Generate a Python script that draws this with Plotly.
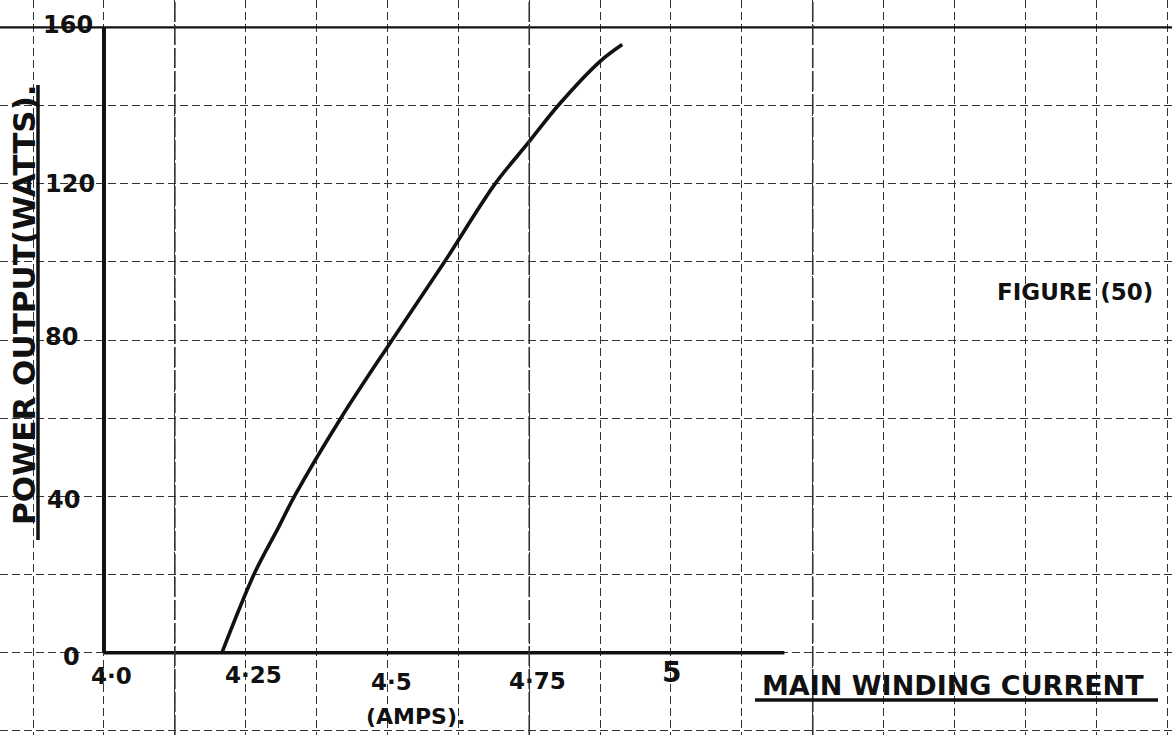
import plotly.graph_objects as go

# ---- data ----
current_amps = [4.208, 4.266, 4.305, 4.337, 4.419, 4.510, 4.601, 4.690, 4.748, 4.801, 4.875, 4.914]
power_watts = [0, 20.5, 31.3, 40.3, 60.3, 80.4, 100.1, 120, 130.4, 140, 151.3, 155.6]

x_tick_values = [4.0, 4.25, 4.5, 4.75, 5.0]
x_tick_labels = ["4·0", "4·25", "4·5", "4·75", "5"]
y_tick_values = [0, 40, 80, 120, 160]
y_tick_labels = ["0", "40", "80", "120", "160"]

x_title = "MAIN WINDING CURRENT"
x_unit = "(AMPS)."
y_title = "POWER OUTPUT(WATTS)."
fig_label = "FIGURE (50)"

# ---- layout constants ----
W, H = 1172, 735
X_RANGE = [3.8166, 5.8836]
Y_RANGE = [-21.05, 166.98]
INK = "#111111"
FONT = "DejaVu Sans"

fig = go.Figure()

fig.add_trace(go.Scatter(
    x=current_amps, y=power_watts, mode="lines",
    line=dict(color=INK, width=3.6, shape="spline", smoothing=1.0),
    hoverinfo="skip", showlegend=False,
))

grid = dict(showgrid=True, gridcolor="#333333", gridwidth=1.4, griddash="8px,4px",
            zeroline=False, showticklabels=False, ticks="", showline=False)

fig.update_xaxes(range=X_RANGE, tick0=4.0, dtick=0.125, **grid)
fig.update_yaxes(range=Y_RANGE, tick0=0, dtick=20, **grid)

shapes = []
# main axes (heavy ink)
shapes.append(dict(type="line", xref="x", yref="y", x0=x_tick_values[0], x1=x_tick_values[0],
                   y0=y_tick_values[0], y1=y_tick_values[-1], line=dict(color=INK, width=4)))
shapes.append(dict(type="line", xref="x", yref="y", x0=x_tick_values[0], x1=5.2,
                   y0=y_tick_values[0], y1=y_tick_values[0], line=dict(color=INK, width=3.5)))
# solid top rule at 160
shapes.append(dict(type="line", xref="paper", yref="y", x0=0, x1=1,
                   y0=y_tick_values[-1], y1=y_tick_values[-1], line=dict(color=INK, width=2.2)))
# a few heavier vertical rules seen on the sheet
for xv in [4.125, 4.75, 5.25]:
    shapes.append(dict(type="line", xref="x", yref="paper", x0=xv, x1=xv, y0=0, y1=1,
                       line=dict(color="#333333", width=1.6, dash="20px,3px")))
# underlines
shapes.append(dict(type="line", xref="paper", yref="paper", x0=38 / W, x1=38 / W,
                   y0=1 - 540 / H, y1=1 - 85 / H, line=dict(color=INK, width=3.5)))
shapes.append(dict(type="line", xref="paper", yref="paper", x0=755 / W, x1=1158 / W,
                   y0=1 - 700 / H, y1=1 - 700 / H, line=dict(color=INK, width=3.5)))

annotations = []
tick_font = dict(family=FONT, size=24, color=INK, weight="bold")

# y tick labels (hand placed to the left of the axis)
y_xshift = [-22, -22, -24, -7, -9]
y_yshift = [-4, -4, 3, 0, 2]
for v, t, xs, ys in zip(y_tick_values, y_tick_labels, y_xshift, y_yshift):
    annotations.append(dict(x=x_tick_values[0], y=v, xref="x", yref="y", text=t, showarrow=False,
                            xanchor="right", yanchor="middle", xshift=xs, yshift=ys, font=tick_font))

# x tick labels
x_xshift = [8, 8, 4, 8, 1]
x_yshift = [-23, -22, -29, -28, -20]
for v, t, xs, ys in zip(x_tick_values, x_tick_labels, x_xshift, x_yshift):
    annotations.append(dict(x=v, y=0, xref="x", yref="y", text=t, showarrow=False,
                            xanchor="center", yanchor="middle", xshift=xs, yshift=ys,
                            font=dict(family=FONT, size=23 if t != "5" else 28, color=INK, weight="bold")))

annotations.append(dict(x=415 / W, y=1 - 716 / H, xref="paper", yref="paper", text=x_unit,
                        showarrow=False, xanchor="center", yanchor="middle",
                        font=dict(family=FONT, size=22, color=INK, weight="bold")))
annotations.append(dict(x=760 / W, y=1 - 685 / H, xref="paper", yref="paper", text=x_title,
                        showarrow=False, xanchor="left", yanchor="middle",
                        font=dict(family=FONT, size=27, color=INK, weight="bold")))
annotations.append(dict(x=24 / W, y=1 - 305 / H, xref="paper", yref="paper", text=y_title,
                        showarrow=False, xanchor="center", yanchor="middle", textangle=-90,
                        font=dict(family=FONT, size=31, color=INK, weight="bold")))
annotations.append(dict(x=995 / W, y=1 - 292 / H, xref="paper", yref="paper", text=fig_label,
                        showarrow=False, xanchor="left", yanchor="middle",
                        font=dict(family=FONT, size=23, color=INK, weight="bold")))

fig.update_layout(
    width=W, height=H,
    margin=dict(l=0, r=0, t=0, b=0),
    paper_bgcolor="white", plot_bgcolor="white",
    shapes=shapes, annotations=annotations,
    showlegend=False,
)

fig.write_html("out.html", config={"displayModeBar": False},
               post_script="document.body.style.margin='0';document.body.style.overflow='hidden';")
